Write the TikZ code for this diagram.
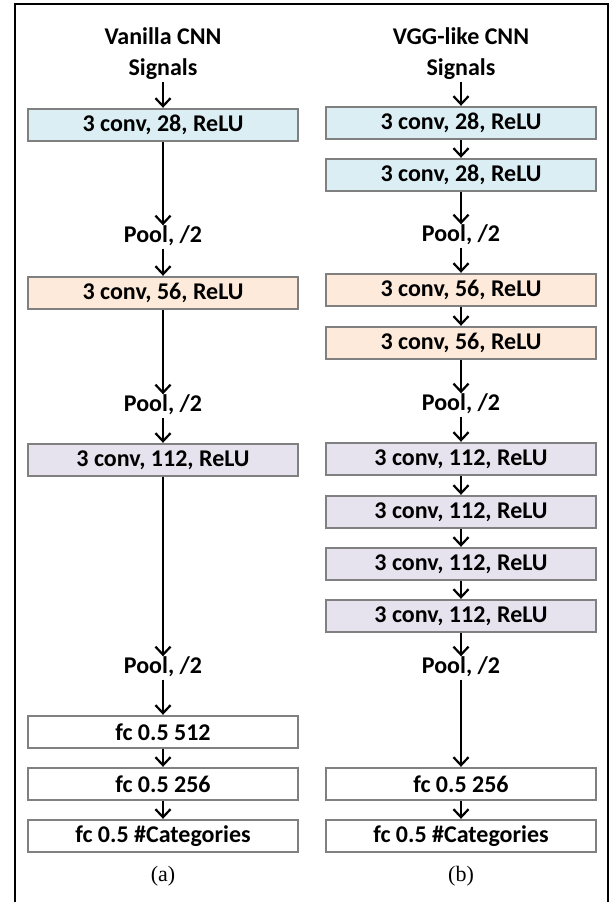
\documentclass[tikz,border=0pt]{standalone}
\usepackage{fontspec}
\setmainfont{Carlito}
\newfontfamily\capfont{Liberation Serif}
\usepackage{tikz}
\usetikzlibrary{arrows.meta}

\definecolor{convblue}{HTML}{DBEEF4}
\definecolor{convpeach}{HTML}{FDEADA}
\definecolor{convlav}{HTML}{E6E2EE}
\definecolor{boxgray}{HTML}{808080}

\begin{document}
\begin{tikzpicture}[x=1pt,y=-1pt,
  layer/.style={draw=boxgray, line width=2.4pt, fill=white, minimum width=270pt,
    minimum height=32pt, inner sep=0pt, font=\fontsize{24}{26}\selectfont\bfseries},
  lbl/.style={inner sep=1pt, text height=16pt, text depth=5pt,
    font=\fontsize{24}{26}\selectfont\bfseries},
  flow/.style={-{Straight Barb[length=8pt,width=15pt]}, line width=2.2pt},
  sub/.style={font=\fontsize{22}{24}\selectfont\capfont}]
\useasboundingbox (0,0) rectangle (611,902);

% Frame
\draw[line width=2.5pt] (15,902) -- (15,4) -- (608,4) -- (608,902);

% Vanilla CNN
\node[lbl] (vtitle) at (163,39) {Vanilla CNN};
\node[lbl] (vin) at (163,70) {Signals};
\node[layer, fill=convblue] (v1) at (163,125) {3 conv, 28, ReLU};
\node[lbl] (vp1) at (163,237) {Pool, /2};
\node[layer, fill=convpeach] (v2) at (163,293) {3 conv, 56, ReLU};
\node[lbl] (vp2) at (163,406) {Pool, /2};
\node[layer, fill=convlav] (v3) at (163,460) {3 conv, 112, ReLU};
\node[lbl] (vp3) at (163,668) {Pool, /2};
\node[layer] (v4) at (163,732) {fc 0.5 512};
\node[layer] (v5) at (163,784) {fc 0.5 256};
\node[layer] (v6) at (163,836) {fc 0.5 \#Categories};
\node[sub] (vcap) at (163,876) {(a)};

\foreach \a/\b in {vin/v1, v1/vp1, vp1/v2, v2/vp2, vp2/v3, v3/vp3, vp3/v4, v4/v5, v5/v6}
  \draw[flow] (\a) -- (\b);

% VGG-like CNN
\node[lbl] (gtitle) at (461,39) {VGG-like CNN};
\node[lbl] (gin) at (461,70) {Signals};
\node[layer, fill=convblue] (g1) at (461,123) {3 conv, 28, ReLU};
\node[layer, fill=convblue] (g2) at (461,175) {3 conv, 28, ReLU};
\node[lbl] (gp1) at (461,236) {Pool, /2};
\node[layer, fill=convpeach] (g3) at (461,290) {3 conv, 56, ReLU};
\node[layer, fill=convpeach] (g4) at (461,343) {3 conv, 56, ReLU};
\node[lbl] (gp2) at (461,405) {Pool, /2};
\node[layer, fill=convlav] (g5) at (461,459) {3 conv, 112, ReLU};
\node[layer, fill=convlav] (g6) at (461,512) {3 conv, 112, ReLU};
\node[layer, fill=convlav] (g7) at (461,564) {3 conv, 112, ReLU};
\node[layer, fill=convlav] (g8) at (461,616) {3 conv, 112, ReLU};
\node[lbl] (gp3) at (461,668) {Pool, /2};
\node[layer] (g9) at (461,784) {fc 0.5 256};
\node[layer] (g10) at (461,836) {fc 0.5 \#Categories};
\node[sub] (gcap) at (461,876) {(b)};

\foreach \a/\b in {gin/g1, g1/g2, g2/gp1, gp1/g3, g3/g4, g4/gp2, gp2/g5, g5/g6, g6/g7, g7/g8, g8/gp3, gp3/g9, g9/g10}
  \draw[flow] (\a) -- (\b);
\end{tikzpicture}
\end{document}
